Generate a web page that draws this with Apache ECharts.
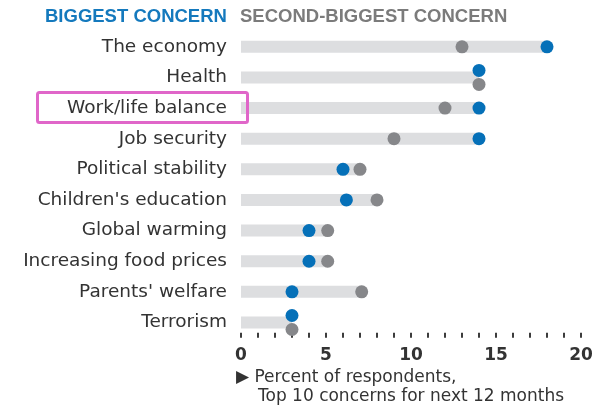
<!DOCTYPE html>
<html>
<head>
<meta charset="utf-8">
<script src="https://cdn.jsdelivr.net/npm/echarts@6/dist/echarts.min.js"></script>
<style>
  html, body { margin: 0; padding: 0; background: #ffffff; }
  #chart { width: 603px; height: 411px; }
</style>
</head>
<body>
<div id="chart"></div>
<script>
// Top 10 concerns for the next 12 months, percent of respondents
const categories = [
  'The economy',
  'Health',
  'Work/life balance',
  'Job security',
  'Political stability',
  "Children's education",
  'Global warming',
  'Increasing food prices',
  "Parents' welfare",
  'Terrorism'
];
const biggestConcern = [18, 14, 14, 14, 6, 6.2, 4, 4, 3, 3];
const secondBiggestConcern = [13, 14, 12, 9, 7, 8, 5.1, 5.1, 7.1, 3];
const majorTicks = [0, 5, 10, 15, 20];
const highlighted = 'Work/life balance';

const BLUE = '#0570b8';
const GREY_DOT = '#86878a';
const TRACK = '#dddee0';
const TEXT = '#333333';

// grey track runs out to the larger of the two answers
const trackLength = categories.map((c, i) => Math.max(biggestConcern[i], secondBiggestConcern[i]));

// when both answers coincide, nudge the dots apart vertically
function dotData(values, other, shift) {
  return values.map((v, i) => ({
    value: [v, categories[i]],
    symbolOffset: v === other[i] ? [0, shift] : [0, 0]
  }));
}

const chart = echarts.init(document.getElementById('chart'), null, { renderer: 'canvas' });

const option = {
  animation: false,
  backgroundColor: '#ffffff',
  grid: { left: 241, right: 22, top: 31.5, bottom: 73.2 },
  xAxis: {
    type: 'value',
    min: 0,
    max: 20,
    interval: 1,
    splitLine: { show: false },
    axisLine: { show: false },
    axisTick: { show: true, inside: true, length: 5, lineStyle: { color: '#3c3c3c', width: 2 } },
    axisLabel: {
      margin: 9,
      fontFamily: 'DejaVu Sans',
      fontWeight: 'bold',
      fontSize: 17,
      color: TEXT,
      formatter: v => (majorTicks.indexOf(v) >= 0 ? String(v) : '')
    }
  },
  yAxis: {
    type: 'category',
    data: categories,
    inverse: true,
    axisLine: { show: false },
    axisTick: { show: false },
    splitLine: { show: false },
    axisLabel: {
      margin: 14,
      fontFamily: 'DejaVu Sans',
      fontSize: 18.5,
      color: TEXT
    }
  },
  series: [
    {
      name: 'track',
      type: 'bar',
      data: trackLength,
      barWidth: 12,
      silent: true,
      itemStyle: { color: TRACK },
      z: 1
    },
    {
      name: 'Second-biggest concern',
      type: 'scatter',
      data: dotData(secondBiggestConcern, biggestConcern, 7),
      symbol: 'circle',
      symbolSize: 13,
      itemStyle: { color: GREY_DOT, opacity: 1 },
      z: 3
    },
    {
      name: 'Biggest concern',
      type: 'scatter',
      data: dotData(biggestConcern, secondBiggestConcern, -7),
      symbol: 'circle',
      symbolSize: 13,
      itemStyle: { color: BLUE, opacity: 1 },
      z: 4
    }
  ],
  graphic: [
    {
      type: 'text',
      left: 45,
      top: 7,
      style: {
        text: 'BIGGEST CONCERN',
        fill: '#1479bd',
        font: 'bold 18.5px "Liberation Sans"'
      }
    },
    {
      type: 'text',
      left: 240,
      top: 7,
      style: {
        text: 'SECOND-BIGGEST CONCERN',
        fill: '#7b7b7b',
        font: 'bold 18.5px "Liberation Sans"'
      }
    },
    {
      type: 'text',
      left: 236,
      top: 369,
      style: {
        text: '\u25B6 Percent of respondents,',
        fill: TEXT,
        font: '17px "DejaVu Sans"'
      }
    },
    {
      type: 'text',
      left: 258,
      top: 388.5,
      style: {
        text: 'Top 10 concerns for next 12 months',
        fill: TEXT,
        font: '17px "DejaVu Sans"'
      }
    }
  ]
};

chart.setOption(option);

// outline around the highlighted category label
const rowY = chart.convertToPixel({ yAxisIndex: 0 }, highlighted);
const axisX = chart.convertToPixel({ xAxisIndex: 0 }, 0);
chart.setOption({
  graphic: [
    {
      type: 'rect',
      id: 'highlight',
      shape: { x: 37.5, y: rowY - 15.5, width: axisX + 6.5 - 37.5, height: 30, r: 2 },
      style: { fill: 'none', stroke: '#e066c9', lineWidth: 3 },
      z: 10
    }
  ]
});
</script>
</body>
</html>
